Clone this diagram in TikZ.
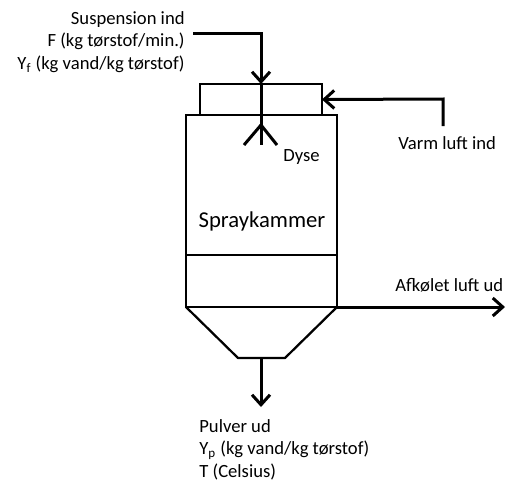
\documentclass[tikz,border=0pt]{standalone}
\usepackage{fontspec}
\setmainfont{Carlito}
\usetikzlibrary{arrows.meta,positioning}

\begin{document}
\begin{tikzpicture}[
  vessel/.style={draw,line width=0.045cm,inner sep=0pt,outer sep=0pt},
  flow/.style={line width=0.06cm,-{Straight Barb[length=0.2cm,width=0.36cm,line width=0.06cm]}},
  label/.style={font=\fontsize{10.6}{12.8}\selectfont,inner sep=0pt,align=left},
]
  \useasboundingbox (0,0) rectangle (10.5,9.8);
  % vessel
  \node[vessel,minimum width=2.44cm,minimum height=0.62cm] (hood) at (5.22,7.81) {};
  \node[vessel,minimum width=3.02cm,minimum height=3.84cm] (chamber) at (5.23,5.58) {};
  \coordinate (hopperbl) at (4.76,2.64);
  \coordinate (hopperbr) at (5.70,2.64);
  \coordinate (outlet) at (5.22,2.64);
  \draw[line width=0.045cm,line join=round] (chamber.south west) -- (hopperbl) -- (hopperbr) -- (chamber.south east);
  \coordinate (dividerl) at (3.72,4.70);
  \coordinate (dividerr) at (6.74,4.70);
  \draw[line width=0.045cm] (dividerl) -- (dividerr);
  % nozzle
  \coordinate (nozzle) at (5.22,6.90);
  \coordinate (spraytop) at (5.22,7.30);
  \coordinate (sprayl) at (4.88,6.90);
  \coordinate (sprayr) at (5.54,6.90);
  \draw[line width=0.06cm] (hood.north) -- (nozzle);
  \draw[line width=0.06cm] (sprayl) -- (spraytop) -- (sprayr);
  % labels
  \node[label,align=right,anchor=north east] (feed) at (3.70,9.58) {Suspension ind\\F (kg tørstof/min.)\\Y\textsubscript{f} (kg vand/kg tørstof)};
  \node[label,anchor=west] (hot) at (7.96,6.94) {Varm luft ind};
  \node[label,anchor=west] (cool) at (7.90,4.10) {Afkølet luft ud};
  \node[label,anchor=west] (dyse) at (5.66,6.66) {Dyse};
  \node[label,font=\fontsize{12.9}{15}\selectfont,anchor=center] (title) at (5.24,5.37) {Spraykammer};
  \node[label,anchor=north west] (powder) at (3.98,1.42) {Pulver ud\\Y\textsubscript{p} (kg vand/kg tørstof)\\T (Celsius)};
  % flows
  \coordinate (feedstart) at (3.86,9.14);
  \coordinate (hotstart) at (8.86,7.28);
  \coordinate (hotcorner) at (8.86,7.82);
  \coordinate (coolend) at (10.10,3.66);
  \coordinate (powderend) at (5.22,1.66);
  \draw[flow] (feedstart) -| (hood.north);
  \draw[flow] (hotstart) -- (hotcorner) -- (hood.east);
  \draw[flow] (chamber.south east) -- (coolend);
  \draw[flow] (outlet) -- (powderend);
\end{tikzpicture}
\end{document}
